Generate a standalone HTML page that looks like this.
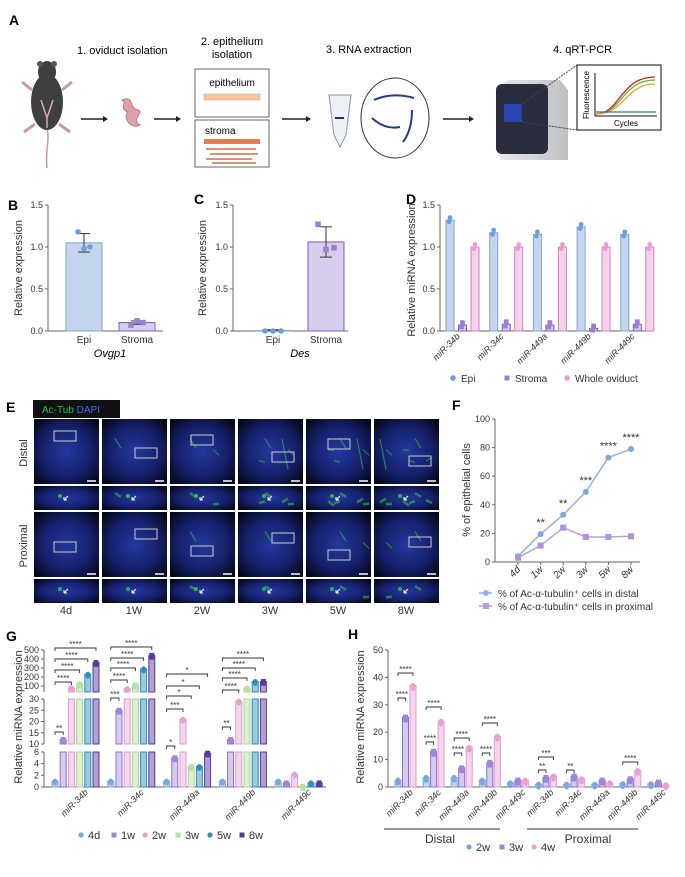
<!DOCTYPE html>
<html><head><meta charset="utf-8"><style>
html,body{margin:0;padding:0;background:#fff}
svg{display:block;font-family:"Liberation Sans",Arial,sans-serif}
</style></head><body>
<svg id="fig" width="685" height="877" viewBox="0 0 685 877" xmlns="http://www.w3.org/2000/svg">
<defs>
<radialGradient id="tis" cx="50%" cy="50%" r="65%"><stop offset="0" stop-color="#2438a0"/><stop offset="0.6" stop-color="#15206a"/><stop offset="1" stop-color="#05081a"/></radialGradient>
<linearGradient id="mach" x1="0" x2="1"><stop offset="0" stop-color="#e8e8ea"/><stop offset="1" stop-color="#bfc0c4"/></linearGradient>
</defs>
<!-- Panel A -->
<g>
<text x="9" y="25" font-size="14" font-weight="bold">A</text>
<text x="77" y="54" font-size="11">1.  oviduct isolation</text>
<text x="232" y="45" font-size="11" text-anchor="middle">2. epithelium</text>
<text x="232" y="58" font-size="11" text-anchor="middle">isolation</text>
<text x="326" y="53" font-size="11">3. RNA extraction</text>
<text x="553" y="53" font-size="11">4. qRT-PCR</text>
<g>
<path d="M47 168 C45 150 50 140 47 128" stroke="#c99a9a" stroke-width="1.5" fill="none"/>
<ellipse cx="47" cy="102" rx="16" ry="28" fill="#3f3f42"/>
<ellipse cx="47" cy="72" rx="9" ry="11" fill="#3f3f42"/>
<ellipse cx="40" cy="64" rx="3" ry="3" fill="#555"/><ellipse cx="54" cy="64" rx="3" ry="3" fill="#555"/>
<path d="M32 90 L22 82 M62 90 L72 82 M35 124 L24 132 M59 124 L70 132" stroke="#c99a9a" stroke-width="3"/>
<path d="M41 100 L47 118 L53 100 M47 118 L47 128" stroke="#d9aab0" stroke-width="1.5" fill="none"/>
</g>
<path d="M122 100 C135 95 128 108 138 110 C145 112 130 120 140 125 C132 130 122 118 128 112 C118 108 128 103 122 100Z" fill="#e0a0a8" stroke="#c07880" stroke-width="1"/>
<g stroke="#222" stroke-width="1.5">
<line x1="81" y1="119" x2="106" y2="119"/><line x1="154" y1="119" x2="179" y2="119"/><line x1="282" y1="119" x2="309" y2="119"/><line x1="443" y1="119" x2="472" y2="119"/>
</g>
<g fill="#222"><path d="M108 119 l-5 -3 v6z"/><path d="M181 119 l-5 -3 v6z"/><path d="M311 119 l-5 -3 v6z"/><path d="M474 119 l-5 -3 v6z"/></g>
<rect x="195" y="69" width="74" height="48" fill="#fff" stroke="#666"/>
<text x="232" y="86" font-size="10" text-anchor="middle">epithelium</text>
<rect x="204" y="94" width="56" height="6" fill="#f3c2a0" stroke="#e0a080" stroke-width="0.5"/>
<rect x="195" y="120" width="74" height="47" fill="#fff" stroke="#666"/>
<text x="205" y="134" font-size="10">stroma</text>
<rect x="204" y="139" width="56" height="5" fill="#e08050"/>
<g stroke="#e09070" stroke-width="2"><line x1="206" y1="149" x2="256" y2="149"/><line x1="210" y1="154" x2="258" y2="154"/><line x1="206" y1="159" x2="252" y2="159"/><line x1="212" y1="163" x2="256" y2="163"/></g>
<path d="M329 95 L351 95 L346 135 L340 147 L334 135 Z" fill="#eef0f4" stroke="#8896a8"/>
<line x1="335" y1="118" x2="344" y2="118" stroke="#203080" stroke-width="2"/>
<ellipse cx="395" cy="118" rx="34" ry="40" fill="#fff" stroke="#333"/>
<g stroke="#2b3a88" stroke-width="2" fill="none"><path d="M374 100 Q392 92 414 98"/><path d="M372 118 Q385 130 400 127"/><path d="M412 110 Q412 130 403 142"/></g>
<path d="M501 90 Q501 80 512 80 L560 80 L568 90 L568 160 L500 160 Z" fill="url(#mach)"/>
<rect x="496" y="84" width="52" height="70" rx="6" fill="#2a2d3d"/>
<rect x="504" y="104" width="18" height="18" fill="#2a46b0"/>
<line x1="522" y1="104" x2="577" y2="65" stroke="#444" stroke-dasharray="2,1"/><line x1="522" y1="122" x2="577" y2="130" stroke="#444" stroke-dasharray="2,1"/>
<rect x="577" y="65" width="84" height="65" fill="#fff" stroke="#333" stroke-width="1.2"/>
<line x1="595" y1="73" x2="595" y2="116" stroke="#111"/><line x1="595" y1="116" x2="657" y2="116" stroke="#111"/>
<path d="M596 114 C620 114 620 77 655 77" stroke="#cc2020" fill="none" stroke-width="1.3"/>
<path d="M596 114 C622 114 622 80 655 80" stroke="#60b040" fill="none" stroke-width="1.3"/>
<path d="M596 114 C625 114 625 84 655 84" stroke="#f0a020" fill="none" stroke-width="1.3"/>
<line x1="596" y1="112" x2="656" y2="112" stroke="#3070c0" stroke-width="1.3"/>
<text x="626" y="126" font-size="8" text-anchor="middle">Cycles</text>
<text transform="translate(589,95) rotate(-90)" font-size="8" text-anchor="middle">Fluorescence</text>
</g>
<g id="charts"></g>
</svg>
<script>
// ---------- data ----------
const bCats=['Epi','Stroma'];
const bVals=[1.05,0.10];
const bErr=[0.11,0.02];
const bPts=[[1.18,0.98,1.0],[0.07,0.12,0.1]];
const cCats=['Epi','Stroma'];
const cVals=[0.005,1.06];
const cErr=[0.01,0.18];
const cPts=[[0,0,0],[1.27,0.97,0.99]];
const dCats=['miR-34b','miR-34c','miR-449a','miR-449b','miR-449c'];
const dEpi=[1.32,1.17,1.15,1.24,1.15];
const dStroma=[0.07,0.08,0.07,0.03,0.08];
const dWhole=[1.0,1.0,1.0,1.0,1.0];
const bcTicks=[0,0.5,1.0,1.5];
const fCats=['4d','1w','2w','3w','5w','8w'];
const fDistal=[4,19.5,33,49,73,79];
const fProx=[3,11.5,24,17.5,17.5,18];
const fStars=['','**','**','***','****','****'];
const fTicks=[0,20,40,60,80,100];
const gCats=['miR-34b','miR-34c','miR-449a','miR-449b','miR-449c'];
const gSeries=['4d','1w','2w','3w','5w','8w'];
const g4d=[1,1,1,1,1];
const g1w=[12,25,5,12,0.7];
const g2w=[80,70,21,29,2.2];
const g3w=[120,110,3.5,75,0.1];
const g5w=[230,290,3.5,150,0.7];
const g8w=[360,440,5.8,150,0.7];
const gTicksLow=[0,2,4,6];
const gTicksMid=[10,15,20,25,30];
const gTicksTop=[100,200,300,400,500];
const hCats=['miR-34b','miR-34c','miR-449a','miR-449b','miR-449c','miR-34b','miR-34c','miR-449a','miR-449b','miR-449c'];
const hSeries=['2w','3w','4w'];
const h2w=[2.5,3.5,3.5,2.5,1.5,1,1,1,1.2,1.2];
const h3w=[25.5,13,7,9,2.5,3.5,4,2.5,3,1.8];
const h4w=[37,24,14.5,18.5,2.5,4,3,1.5,6,0.8];
const hTicks=[0,10,20,30,40,50];
const eCols=['4d','1W','2W','3W','5W','8W'];

// ---------- helpers ----------
const NS='http://www.w3.org/2000/svg';
const root=document.getElementById('charts');
function mk(tag,a,p){const e=document.createElementNS(NS,tag);for(const k in a)e.setAttribute(k,a[k]);(p||root).appendChild(e);return e;}
function tx(s,a,p){const e=mk('text',a,p);e.textContent=s;return e;}
const FS=9;
const BLUE={fill:'#c5d5ee',stroke:'#7fa3d8',dot:'#6f9edb'};
const PURP={fill:'#d9cdee',stroke:'#7c5cc4',dot:'#9a7fd3'};
const PINK={fill:'#f4d3ea',stroke:'#d37fc2',dot:'#e59fd3'};

function yAxis(x,yTop,yBot,ticks,scale,fmt,name){
  const g=mk('g',{});
  
  
  mk('line',{x1:x,y1:yTop,x2:x,y2:yBot,stroke:'#666','stroke-width':1},g);
  ticks.forEach(t=>{const y=scale(t);
    mk('line',{x1:x-3,y1:y,x2:x,y2:y,stroke:'#666'},g);
    const l=tx(fmt(t),{x:x-5,y:y+3,'font-size':FS,'text-anchor':'end',fill:'#333'},g);
    
    
  });
  return g;
}
function yTitle(s,x,y,name){
  const t=tx(s,{transform:`translate(${x},${y}) rotate(-90)`,'font-size':11,'text-anchor':'middle',fill:'#333'});
  
  
}
function label(s,x,y,name){
  const t=tx(s,{x:x,y:y,'font-size':14,'font-weight':'bold'});
  
  
}
function bar(cx,w,y0,y1,col,name){
  const r=mk('rect',{x:cx-w/2,y:Math.min(y0,y1),width:w,height:Math.abs(y0-y1),fill:col.fill,stroke:col.stroke,'stroke-width':1});
  
  
  return r;
}
function errBar(cx,yLo,yHi,w){
  const g=mk('g',{stroke:'#333','stroke-width':1});
  
  
  mk('line',{x1:cx,y1:yLo,x2:cx,y2:yHi},g);
  mk('line',{x1:cx-w,y1:yHi,x2:cx+w,y2:yHi},g);
  mk('line',{x1:cx-w,y1:yLo,x2:cx+w,y2:yLo},g);
}
function dot(x,y,col,shape,r){
  let e;
  if(shape==='sq') e=mk('rect',{x:x-r,y:y-r,width:2*r,height:2*r,fill:col});
  else e=mk('circle',{cx:x,cy:y,r:r,fill:col});
  
  
}

// ---------- Panel B ----------
label('B',8,210,'panel-b-label');
const yBC=v=>331-v/1.5*126;
yAxis(48,205,331,bcTicks,yBC,t=>t.toFixed(1),'b-y-axis');
mk('line',{x1:48,y1:331,x2:163,y2:331,stroke:'#666'});
yTitle('Relative expression',22,268,'b-y-axis-title');
const xB=i=>84+i*53;
bCats.forEach((c,i)=>{
  const col=i===0?BLUE:PURP;
  bar(xB(i),36,yBC(0),yBC(bVals[i]),col,'b-bar-'+c.toLowerCase());
  errBar(xB(i),yBC(bVals[i]-bErr[i]),yBC(bVals[i]+bErr[i]),6);
  bPts[i].forEach((p,k)=>dot(xB(i)+(k-1)*6,yBC(p),col.dot,i===0?'c':'sq',2.8));
  const l=tx(c,{x:xB(i),y:343,'font-size':10,'text-anchor':'middle',fill:'#333'});
  
  
});
const bg=tx('Ovgp1',{x:110,y:357,'font-size':11,'font-style':'italic','text-anchor':'middle'});



// ---------- Panel C ----------
label('C',194,204,'panel-c-label');
yAxis(233,205,331,bcTicks,yBC,t=>t.toFixed(1),'c-y-axis');
mk('line',{x1:233,y1:331,x2:348,y2:331,stroke:'#666'});
yTitle('Relative expression',206,268,'c-y-axis-title');
const xC=i=>273+i*53;
cCats.forEach((c,i)=>{
  const col=i===0?BLUE:PURP;
  bar(xC(i),36,yBC(0),yBC(cVals[i]),col,'c-bar-'+c.toLowerCase());
  errBar(xC(i),yBC(Math.max(0,cVals[i]-cErr[i])),yBC(cVals[i]+cErr[i]),6);
  cPts[i].forEach((p,k)=>dot(xC(i)+(k-1)*8,yBC(p),col.dot,i===0?'c':'sq',2.8));
  const l=tx(c,{x:xC(i),y:343,'font-size':10,'text-anchor':'middle',fill:'#333'});
  
  
});
const cg=tx('Des',{x:300,y:357,'font-size':11,'font-style':'italic','text-anchor':'middle'});



// ---------- Panel D ----------
label('D',406,204,'panel-d-label');
yAxis(440,205,331,bcTicks,yBC,t=>t.toFixed(1),'d-y-axis');
mk('line',{x1:440,y1:331,x2:652,y2:331,stroke:'#666'});
yTitle('Relative miRNA expression',415,270,'d-y-axis-title');
const xD=(i,s)=>450+i*43.7+s*12.5;
dCats.forEach((c,i)=>{
  [[dEpi,BLUE,'c'],[dStroma,PURP,'sq'],[dWhole,PINK,'c']].forEach((ser,s)=>{
    const v=ser[0][i];
    bar(xD(i,s),8,yBC(0),yBC(v),ser[1],'d-bar');
    dot(xD(i,s),yBC(v+0.03),ser[1].dot,ser[2],2.4);
    dot(xD(i,s)-1,yBC(v-0.02),ser[1].dot,ser[2],2.4);
  });
  const l=tx(c,{transform:`translate(${xD(i,1)-2},337) rotate(-45)`,'font-size':FS,'font-style':'italic','text-anchor':'end',fill:'#333'});
  
  
});
[['Epi',BLUE.dot,'c',453],['Stroma',PURP.dot,'sq',507],['Whole oviduct',PINK.dot,'c',567]].forEach(l=>{
  const g=mk('g',{});
  
  
  if(l[2]==='sq') mk('rect',{x:l[3]-2.5,y:375.5,width:5,height:5,fill:l[1]},g); else mk('circle',{cx:l[3],cy:378,r:2.8,fill:l[1]},g);
  tx(l[0],{x:l[3]+8,y:382,'font-size':10,fill:'#333'},g);
});

// ---------- Panel E ----------
label('E',6,412,'panel-e-label');
const eb=mk('rect',{x:33,y:400,width:87,height:18,fill:'#111'});


const et=mk('text',{x:42,y:413,'font-size':10});


const t1=mk('tspan',{fill:'#2fbf4f'},et);t1.textContent='Ac-Tub ';
const t2=mk('tspan',{fill:'#3d6ee0'},et);t2.textContent='DAPI';
const rowsY=[[419,65],[486,24],[512,65],[579,24]];
eCols.forEach((c,ci)=>{
  const x=34+ci*68;
  rowsY.forEach((r,ri)=>{
    const im=mk('rect',{x:x,y:r[0],width:65,height:r[1],fill:'url(#tis)'});
    
    
    const gAmt=ci/5*(ri<2?1:0.4);
    for(let k=0;k<Math.round(gAmt*6);k++){
      mk('line',{x1:x+6+((k*23+ci*7)%52),y1:r[0]+r[1]*0.3+((k*11)%Math.max(4,r[1]*0.5)),x2:x+12+((k*23+ci*7)%52),y2:r[0]+r[1]*0.45+((k*7)%Math.max(4,r[1]*0.4)),stroke:'#30c040','stroke-width':r[1]>30?1.2:2.5,opacity:0.6});
    }
    if(r[1]>30){
      mk('rect',{x:x+20+((ci*13)%25),y:r[0]+12+((ci*17+ri*9)%30),width:22,height:10,fill:'none',stroke:'#ccc','stroke-width':1});
      mk('line',{x1:x+53,y1:r[0]+r[1]-3,x2:x+62,y2:r[0]+r[1]-3,stroke:'#fff','stroke-width':1.5});
    } else {
      mk('circle',{cx:x+26,cy:r[0]+10,r:2,fill:'#3ad04a',opacity:0.8});
      mk('path',{d:`M${x+30} ${r[0]+14} l4 -4 m-4 4 l0 -3 m0 3 l3 0`,stroke:'#fff','stroke-width':1,fill:'none'});
    }
  });
  const l=tx(c,{x:x+32,y:614,'font-size':11,'text-anchor':'middle',fill:'#333'});
  
  
});
yTitle('Distal',27,453,'e-row-label-distal');
yTitle('Proximal',27,546,'e-row-label-proximal');

// ---------- Panel F ----------
label('F',452,410,'panel-f-label');
const yF=v=>562-v/100*143;
const xF=i=>518+i*22.6;
yAxis(495,419,562,fTicks,yF,t=>String(t),'f-y-axis');
mk('line',{x1:495,y1:562,x2:640,y2:562,stroke:'#666'});
yTitle('% of epithelial cells',470,490,'f-y-axis-title');
fCats.forEach((c,i)=>{
  mk('line',{x1:xF(i),y1:562,x2:xF(i),y2:565,stroke:'#666'});
  const l=tx(c,{transform:`translate(${xF(i)+3},570) rotate(-45)`,'font-size':10,'font-style':'italic','text-anchor':'end',fill:'#333'});
  
  
});
const pd=mk('polyline',{points:fDistal.map((v,i)=>xF(i)+','+yF(v)).join(' '),fill:'none',stroke:'#8fb2e2','stroke-width':1.5});


const pp=mk('polyline',{points:fProx.map((v,i)=>xF(i)+','+yF(v)).join(' '),fill:'none',stroke:'#b7a0dc','stroke-width':1.5});


fDistal.forEach((v,i)=>dot(xF(i),yF(v),'#7fa6dd','c',3));
fProx.forEach((v,i)=>dot(xF(i),yF(v),'#ad93da','sq',3));
fStars.forEach((s,i)=>{if(!s)return;
  const t=tx(s,{x:xF(i),y:yF(fDistal[i])-8,'font-size':11,'text-anchor':'middle',fill:'#333'});
  
  
});
[['% of Ac-α-tubulin⁺ cells in distal','#8fb2e2','c',593],['% of Ac-α-tubulin⁺ cells in proximal','#b7a0dc','sq',606]].forEach(l=>{
  const g=mk('g',{});
  
  
  mk('line',{x1:479,y1:l[3],x2:492,y2:l[3],stroke:l[1],'stroke-width':1.5},g);
  if(l[2]==='sq') mk('rect',{x:483,y:l[3]-3,width:6,height:6,fill:l[1]},g); else mk('circle',{cx:486,cy:l[3],r:3,fill:l[1]},g);
  tx(l[0],{x:498,y:l[3]+4,'font-size':10,fill:'#333'},g);
});

// ---------- Panel G ----------
label('G',6,641,'panel-g-label');
const gCols=[{fill:'#c2d4ee',stroke:'#7aa6dc',dot:'#7aa6dc'},{fill:'#d6cbef',stroke:'#8d70d0',dot:'#9f86d6'},{fill:'#f6d6ec',stroke:'#e09ad0',dot:'#e8a0d0'},{fill:'#dcefcf',stroke:'#a8d890',dot:'#b8e0a0'},{fill:'#9cc9de',stroke:'#2a90b8',dot:'#2a90b8'},{fill:'#b0a0d0',stroke:'#5a3a98',dot:'#5a3a98'}];
const gAll=[g4d,g1w,g2w,g3w,g5w,g8w];
const yGlow=v=>787-v/6*35;
const yGmid=v=>744-(v-10)/20*45;
const yGtop=v=>695-v/100*9;
const xG=(gi,si)=>55+gi*55.8+si*8.2;
yAxis(44,752,787,gTicksLow,yGlow,t=>String(t),'g-y-axis-low');
yAxis(44,699,744,gTicksMid,yGmid,t=>String(t),'g-y-axis-mid');
yAxis(44,650,692,gTicksTop,yGtop,t=>String(t),'g-y-axis-top');
mk('line',{x1:44,y1:787,x2:326,y2:787,stroke:'#666'});
yTitle('Relative miRNA expression',22,717,'g-y-axis-title');
gCats.forEach((c,gi)=>{
  gSeries.forEach((s,si)=>{
    const v=gAll[si][gi],col=gCols[si],x=xG(gi,si);
    bar(x,6,787,yGlow(Math.min(v,6)),col,'g-bar-'+s);
    if(v>10) bar(x,6,744,yGmid(Math.min(v,30)),col,'g-bar-'+s);
    if(v>30) bar(x,6,692,yGtop(v),col,'g-bar-'+s);
    const yv=v<=6?yGlow(v):(v<=30?yGmid(v):yGtop(v));
    dot(x,yv,col.dot,si%2?'sq':'c',2.5);
    dot(x,yv+2,col.dot,si%2?'sq':'c',2.3);
  });
  const l=tx(c,{transform:`translate(${xG(gi,2.5)+13},793) rotate(-45)`,'font-size':FS,'font-style':'italic','text-anchor':'end',fill:'#333'});
  
  
});
// significance brackets: [group, toSeries, yLevel(px), label]
const gBrackets=[[0,5,648,'****'],[0,4,659,'****'],[0,3,670,'****'],[0,2,682,'****'],[0,1,732,'**'],
 [1,5,647,'****'],[1,4,658,'****'],[1,3,668,'****'],[1,2,680,'****'],[1,1,698,'***'],
 [2,5,674,'*'],[2,4,686,'*'],[2,3,696,'*'],[2,2,709,'***'],[2,1,746,'*'],
 [3,5,658,'****'],[3,4,668,'****'],[3,3,678,'****'],[3,2,690,'****'],[3,1,727,'**']];
function bracket(x1,x2,y,lab,name){
  const g=mk('g',{});
  
  
  mk('path',{d:`M${x1} ${y+3} V${y} H${x2} V${y+3}`,stroke:'#333',fill:'none','stroke-width':0.9},g);
  tx(lab,{x:(x1+x2)/2,y:y-1,'font-size':8,'text-anchor':'middle',fill:'#333'},g);
}
gBrackets.forEach(b=>bracket(xG(b[0],0),xG(b[0],b[1]),b[2],b[3],'g-significance-bracket'));
gSeries.forEach((s,si)=>{
  const lx=[81,114,145,178,210,242][si];
  const g=mk('g',{});
  
  
  if(si%2) mk('rect',{x:lx-2.5,y:832.5,width:5,height:5,fill:gCols[si].dot},g); else mk('circle',{cx:lx,cy:835,r:2.6,fill:gCols[si].dot},g);
  tx(s,{x:lx+7,y:839,'font-size':11,fill:'#333'},g);
});

// ---------- Panel H ----------
label('H',348,639,'panel-h-label');
const hCols=[gCols[0],gCols[1],gCols[2]];
const hAll=[h2w,h3w,h4w];
const yH=v=>787-v/50*137;
const xH=(gi,si)=>398+gi*28.1+si*7.5;
yAxis(388,650,787,hTicks,yH,t=>String(t),'h-y-axis');
mk('line',{x1:388,y1:787,x2:666,y2:787,stroke:'#666'});
yTitle('Relative miRNA expression',364,717,'h-y-axis-title');
hCats.forEach((c,gi)=>{
  hSeries.forEach((s,si)=>{
    const v=hAll[si][gi],col=hCols[si],x=xH(gi,si);
    bar(x,6,787,yH(v),col,'h-bar-'+s);
    dot(x,yH(v),col.dot,si===1?'sq':'c',2.5);
    dot(x,yH(v)+3,col.dot,si===1?'sq':'c',2.3);
  });
  const l=tx(c,{transform:`translate(${xH(gi,1)+8},793) rotate(-45)`,'font-size':FS,'font-style':'italic','text-anchor':'end',fill:'#333'});
  
  
});
const hBrackets=[[0,2,673,'****'],[0,1,698,'****'],[1,2,707,'****'],[1,1,742,'****'],[2,2,738,'****'],[2,1,753,'****'],[3,2,723,'****'],[3,1,753,'****'],[5,2,757,'***'],[5,1,770,'**'],[6,1,770,'**'],[8,2,762,'****']];
hBrackets.forEach(b=>bracket(xH(b[0],0),xH(b[0],b[1]),b[2],b[3],'h-significance-bracket'));
mk('line',{x1:384,y1:829,x2:500,y2:829,stroke:'#333'});
mk('line',{x1:527,y1:829,x2:638,y2:829,stroke:'#333'});
const hd=tx('Distal',{x:440,y:843,'font-size':12,'text-anchor':'middle',fill:'#333'});


const hp=tx('Proximal',{x:588,y:843,'font-size':12,'text-anchor':'middle',fill:'#333'});


hSeries.forEach((s,si)=>{
  const lx=[469,502,534][si];
  const g=mk('g',{});
  
  
  if(si===1) mk('rect',{x:lx-2.5,y:844.5,width:5,height:5,fill:hCols[si].dot},g); else mk('circle',{cx:lx,cy:847,r:2.6,fill:hCols[si].dot},g);
  tx(s,{x:lx+7,y:851,'font-size':11,fill:'#333'},g);
});
</script>
</body></html>
